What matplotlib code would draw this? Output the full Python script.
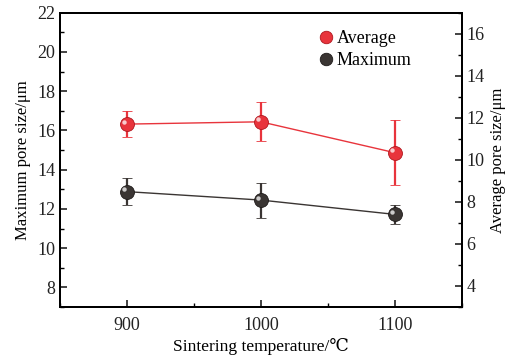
import matplotlib
matplotlib.use("Agg")
import matplotlib.pyplot as plt
import matplotlib.transforms as mtransforms
from matplotlib.lines import Line2D
from matplotlib.ticker import MultipleLocator

plt.rcParams['font.family'] = ['Liberation Serif', 'DejaVu Serif']

# data
temps = [900, 1000, 1100]
avg_size = [11.70, 11.81, 10.34]
avg_err = [0.62, 0.92, 1.55]
max_size = [12.88, 12.45, 11.72]
max_err = [0.68, 0.89, 0.49]

red = '#e8343c'
dark = '#3a3533'

fig = plt.figure(figsize=(5.12, 3.58), dpi=100)
ax = fig.add_axes([0.117, 0.1425, 0.785, 0.822])
ax2 = ax.twinx()


def sphere(axis, x, y, err, color, edge):
    axis.errorbar(x, y, yerr=err, color=color, lw=1.0, elinewidth=1.6,
                  capsize=3.5, capthick=1.6, marker='o', ms=10,
                  mfc=color, mec=edge, mew=0.6, zorder=3)
    # small highlight so the markers look like spheres
    hl = mtransforms.offset_copy(axis.transData, fig=fig, x=-1.8, y=1.8, units='points')
    axis.plot(x, y, 'o', ms=3.2, color='white', alpha=0.75, mew=0,
              transform=hl, zorder=4)


sphere(ax, temps, max_size, max_err, dark, '#1e1a19')
sphere(ax2, temps, avg_size, avg_err, red, '#b0161d')

ax.set_xlim(850, 1150)
ax.set_ylim(7, 22)
ax2.set_ylim(3, 17)
ax.set_xticks(temps)
ax.xaxis.set_minor_locator(MultipleLocator(50))
ax.set_yticks(range(8, 23, 2))
ax.yaxis.set_minor_locator(MultipleLocator(1))
ax2.set_yticks(range(4, 17, 2))
ax2.yaxis.set_minor_locator(MultipleLocator(1))

for a in (ax, ax2):
    a.tick_params(which='major', direction='in', length=5, width=1.2, labelsize=13, colors='#222222')
    a.tick_params(which='minor', direction='in', length=3, width=1.0)
    for s in a.spines.values():
        s.set_linewidth(1.4)
ax.tick_params(axis='x', pad=7)

ax.set_xlabel('Sintering temperature/℃', fontsize=12.5, labelpad=3)
ax.set_ylabel('Maximum pore size/μm', fontsize=12, labelpad=4)
ax2.set_ylabel('Average pore size/μm', fontsize=12, labelpad=4)

handles = [Line2D([], [], ls='none', marker='o', ms=9, mfc=red, mec='#b0161d', mew=0.6),
           Line2D([], [], ls='none', marker='o', ms=9, mfc=dark, mec='#1e1a19', mew=0.6)]
ax2.legend(handles, ['Average', 'Maximum'], loc='upper right', bbox_to_anchor=(0.915, 0.995),
           frameon=False, fontsize=13, handlelength=0.6, handletextpad=0.3,
           labelspacing=0.25, numpoints=1)

fig.savefig('out.png', dpi=100)
